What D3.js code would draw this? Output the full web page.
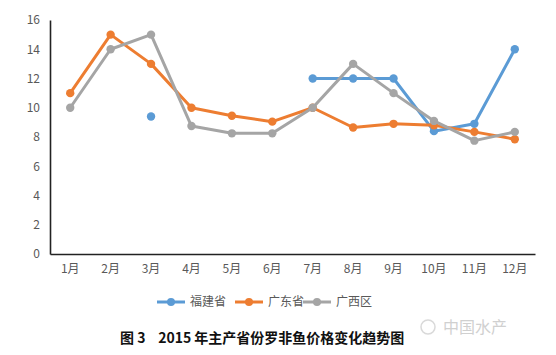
<!DOCTYPE html>
<html><head><meta charset="utf-8">
<script src="https://cdn.jsdelivr.net/npm/d3@7"></script>
<style>body{margin:0;background:#fff;} svg{display:block;}</style>
</head><body>
<svg id="c" width="556" height="355"></svg>
<script>
const months = ["1月","2月","3月","4月","5月","6月","7月","8月","9月","10月","11月","12月"];
const yTicks = [0,2,4,6,8,10,12,14,16];
const fujian = [null,null,9.4,null,null,null,12,12,12,8.4,8.9,14];
const guangdong = [11,15,13,10,9.45,9.05,10,8.65,8.9,8.8,8.35,7.85];
const guangxi = [10,14,15,8.75,8.25,8.25,10,13,11,9.1,7.75,8.35];
const seriesNames = ["福建省","广东省","广西区"];
const colors = ["#5B9BD5","#ED7D31","#A5A5A5"];
const seriesData = [fujian, guangdong, guangxi];

const svg = d3.select("#c");
const font = "'Noto Sans CJK SC', 'Noto Sans', sans-serif";
const x = d3.scaleBand().domain(months).range([50, 535]);
const y = d3.scaleLinear().domain([0,16]).range([254, 20]);

// y axis
const ya = svg.append("g").attr("transform","translate(50,0)")
  .call(d3.axisLeft(y).tickValues(yTicks).tickSize(0).tickPadding(10));
ya.select(".domain").attr("stroke","#222").attr("stroke-width",1.6);
ya.selectAll("text").attr("font-family",font).attr("font-size",12).attr("fill","#595959");

// x axis
const xa = svg.append("g").attr("transform","translate(0,254)")
  .call(d3.axisBottom(x).tickSize(0).tickPadding(10));
xa.select(".domain").attr("stroke","#222").attr("stroke-width",1.6);
xa.selectAll("text").attr("font-family",font).attr("font-size",12).attr("fill","#595959");

const cx = m => x(m) + x.bandwidth()/2;
const line = d3.line().defined(d => d.v != null).x(d => cx(d.m)).y(d => y(d.v));

seriesData.forEach((arr, i) => {
  const pts = arr.map((v, j) => ({m: months[j], v}));
  svg.append("path").datum(pts).attr("d", line)
    .attr("fill","none").attr("stroke",colors[i]).attr("stroke-width",3)
    .attr("stroke-linejoin","round");
  svg.append("g").selectAll("circle").data(pts.filter(d => d.v != null)).join("circle")
    .attr("cx", d => cx(d.m)).attr("cy", d => y(d.v)).attr("r", 4.2)
    .attr("fill", colors[i]);
});

// legend
const legX = [157, 235, 303];
const lg = svg.append("g");
seriesNames.forEach((n, i) => {
  const g = lg.append("g").attr("transform", `translate(${legX[i]},302)`);
  g.append("line").attr("x1",0).attr("x2",28).attr("stroke",colors[i]).attr("stroke-width",3);
  g.append("circle").attr("cx",14).attr("r",4).attr("fill",colors[i]);
  g.append("text").attr("x",33).attr("y",0).attr("dy","0.35em")
    .attr("font-family",font).attr("font-size",12).attr("fill","#595959").text(n);
});

// title
svg.append("text").attr("x",120).attr("y",343).style("white-space","pre")
  .attr("font-family",font).attr("font-size",14).attr("font-weight","bold").attr("fill","#111")
  .text("图 3    2015 年主产省份罗非鱼价格变化趋势图");

// watermark
const wm = svg.append("g").attr("opacity",0.55);
wm.append("circle").attr("cx",428).attr("cy",327).attr("r",7).attr("fill","none").attr("stroke","#bbb").attr("stroke-width",1.5);
wm.append("text").attr("x",443).attr("y",333)
  .attr("font-family",font).attr("font-size",16).attr("fill","#aaa").text("中国水产");
</script>
</body></html>
